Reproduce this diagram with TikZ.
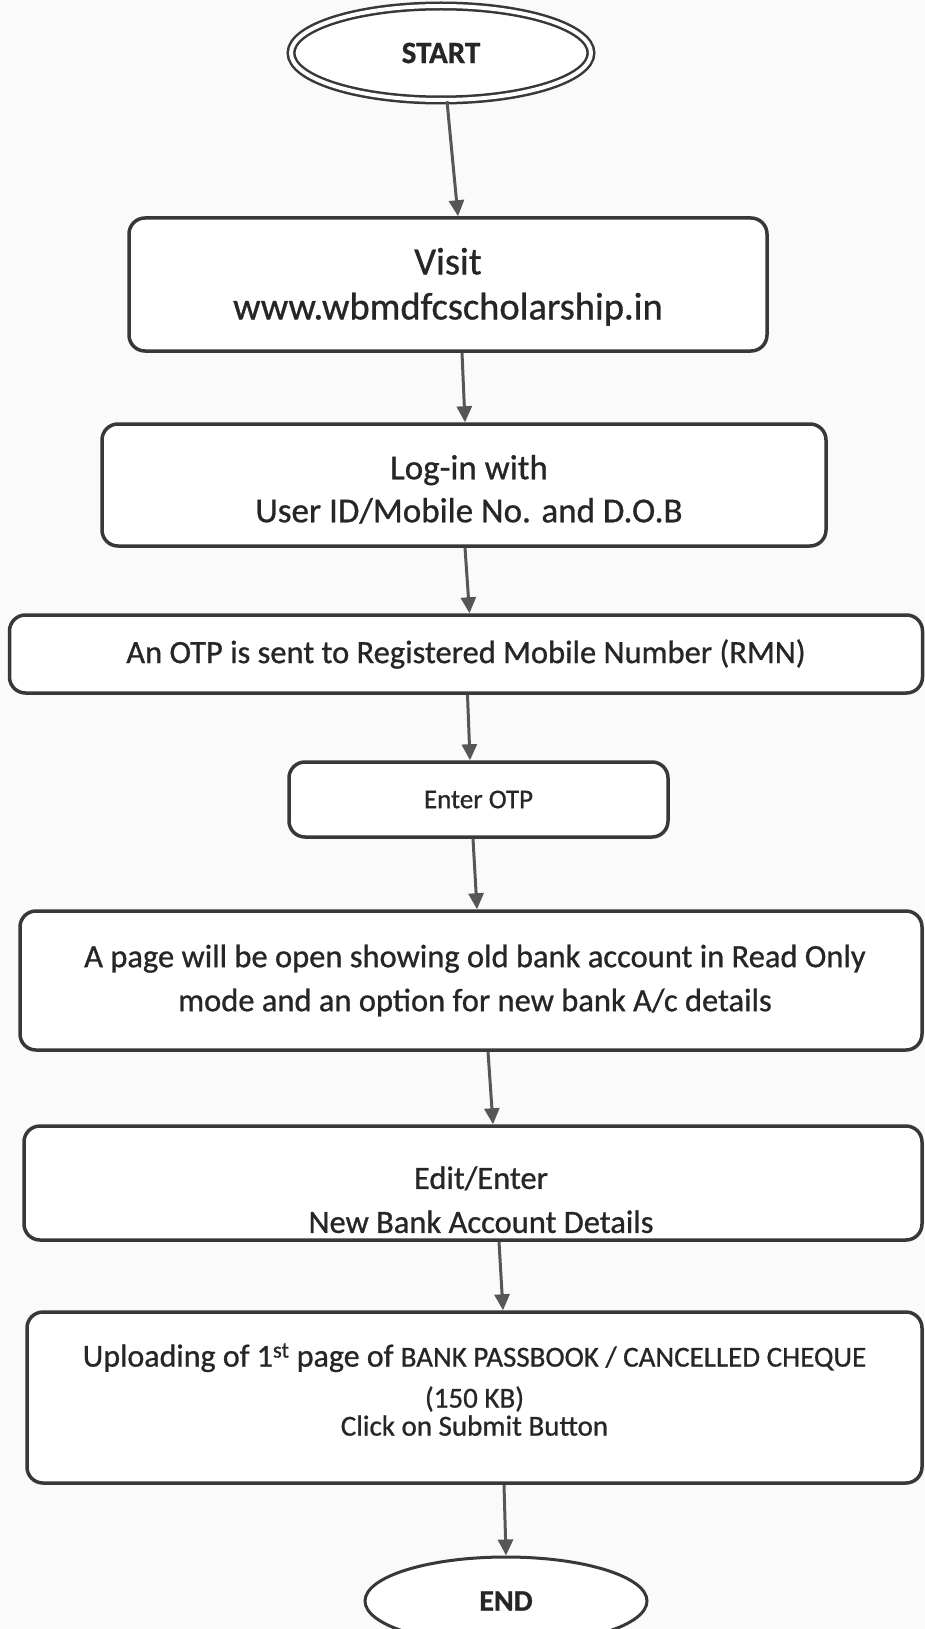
\documentclass[tikz,border=0pt]{standalone}
\usepackage{fontspec}
\setmainfont{Carlito}[FakeBold=0.8]
\usetikzlibrary{shapes.geometric,arrows.meta}
\definecolor{ink}{HTML}{383838}
\definecolor{txt}{HTML}{262626}
\definecolor{bg}{HTML}{FAFAFA}
\begin{document}
\begin{tikzpicture}[x=1pt,y=-1pt,
  box/.style={draw=ink,line width=3.5pt,rounded corners=16pt,align=center,text=txt,inner sep=0pt,fill=white},
  term/.style={ellipse,draw=ink,align=center,text=txt,inner sep=0pt,fill=white},
  arr/.style={draw=ink!85,line width=3pt,-{Triangle[width=15pt,length=16pt]}},
  big/.style={font=\fontsize{38.5}{45}\selectfont},
  mid/.style={font=\fontsize{32.5}{44}\selectfont}]
\fill[bg] (0,0) rectangle (925,1629);
\useasboundingbox (0,0) rectangle (925,1629);

\node[term,line width=2.5pt,double=white,double distance=4pt,minimum width=300pt,minimum height=94pt] (start) at (441,53) {\fontsize{31}{36}\selectfont\bfseries START};

\node[box,big,minimum width=638pt,minimum height=133pt] (visit) at (448,284.5) {\rule{0pt}{31pt}Visit\\www.wbmdfcscholarship.in};

\node[box,font=\fontsize{35}{43}\selectfont,minimum width=724pt,minimum height=122pt] (login) at (464,485) {\hspace*{10pt}\rule{0pt}{33pt}Log-in with\\\hspace*{10pt}User ID/Mobile No. and D.O.B};

\node[box,mid,minimum width=913pt,minimum height=78pt] (otp) at (466,654) {An OTP is sent to Registered Mobile Number (RMN)};

\node[box,font=\fontsize{27}{33}\selectfont,minimum width=379pt,minimum height=75pt] (enter) at (478.5,799.5) {Enter OTP};

\node[box,mid,minimum width=902pt,minimum height=139pt] (page) at (471,980.5) {\hspace*{8pt}A page will be open showing old bank account in Read Only\\\hspace*{8pt}mode and an option for new bank A/c details\rule[-5pt]{0pt}{5pt}};

\node[box,mid,minimum width=898pt,minimum height=114pt] (edit) at (473,1183) {\hspace*{16pt}\rule{0pt}{56pt}Edit/Enter\\\hspace*{16pt}New Bank Account Details};

\node[box,font=\fontsize{29}{28}\selectfont,minimum width=895pt,minimum height=171pt] (upload) at (474.5,1397.5) {{\fontsize{32}{40}\selectfont Uploading of 1\textsuperscript{st} page of }BANK PASSBOOK / CANCELLED CHEQUE\\[13pt](150 KB)\\Click on Submit Button\rule[-16pt]{0pt}{16pt}};

\node[term,line width=3pt,minimum width=282pt,minimum height=88pt,font=\fontsize{30}{36}\selectfont\bfseries] (end) at (506,1601) {END};

\draw[arr] ([xshift=6pt]start.south) -- ([xshift=10pt]visit.north);
\draw[arr] ([xshift=14pt]visit.south) -- ([xshift=1pt]login.north);
\draw[arr] ([xshift=1pt]login.south) -- ([xshift=3.5pt]otp.north);
\draw[arr] ([xshift=1.5pt]otp.south) -- ([xshift=-8.5pt]enter.north);
\draw[arr] ([xshift=-5.5pt]enter.south) -- ([xshift=6pt]page.north);
\draw[arr] ([xshift=17pt]page.south) -- ([xshift=20pt]edit.north);
\draw[arr] ([xshift=26pt]edit.south) -- ([xshift=28.5pt]upload.north);
\draw[arr] ([xshift=29.5pt]upload.south) -- ([xshift=0pt]end.north);
\end{tikzpicture}
\end{document}
